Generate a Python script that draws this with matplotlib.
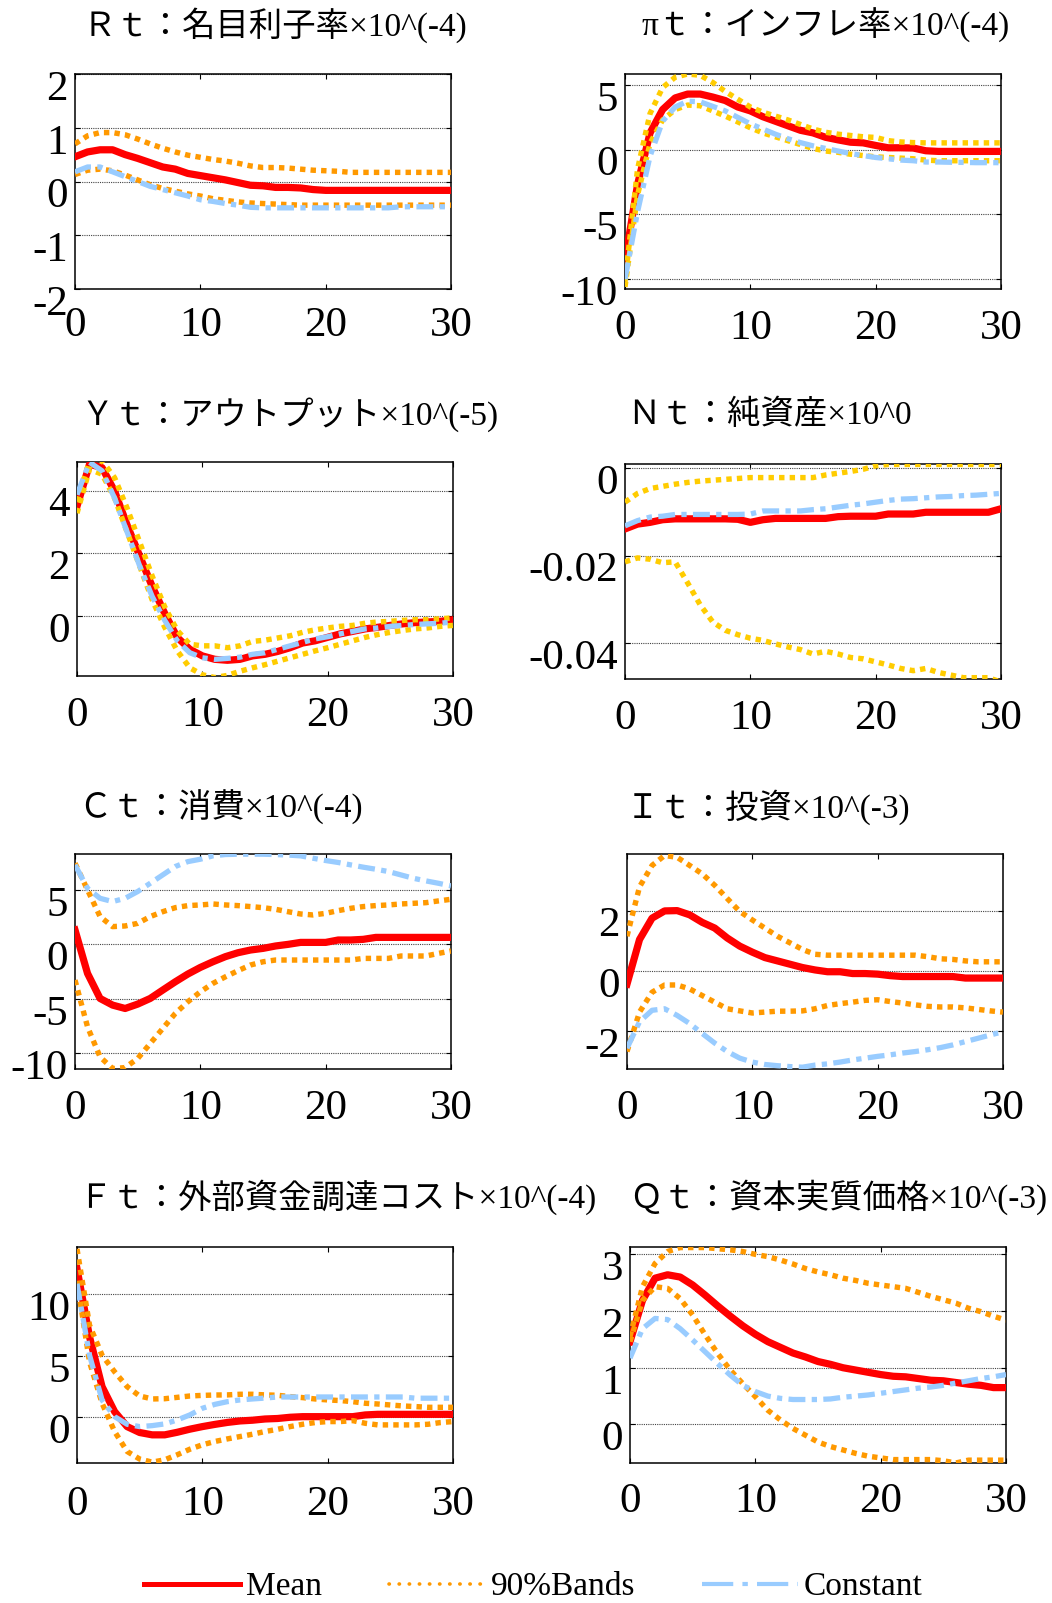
import matplotlib
matplotlib.use('Agg')
import matplotlib.pyplot as plt
from matplotlib.lines import Line2D
from matplotlib.transforms import ScaledTranslation

plt.rcParams['font.family'] = ['Liberation Serif', 'Noto Sans CJK JP']
plt.rcParams['axes.unicode_minus'] = False

periods = list(range(31))

# R t : nominal rate
R_mean = [0.46, 0.55, 0.59, 0.59, 0.50, 0.43, 0.35, 0.27, 0.23, 0.15, 0.11, 0.07, 0.03, -0.02, -0.07, -0.08,
          -0.11, -0.11, -0.12, -0.15, -0.165, -0.165, -0.165, -0.165, -0.165, -0.165, -0.165, -0.165, -0.165,
          -0.165, -0.165]
R_up = [0.70, 0.85, 0.91, 0.91, 0.87, 0.79, 0.70, 0.62, 0.55, 0.49, 0.45, 0.41, 0.38, 0.34, 0.29, 0.26, 0.26,
        0.25, 0.23, 0.21, 0.20, 0.19, 0.17, 0.17, 0.17, 0.17, 0.17, 0.17, 0.17, 0.17, 0.17]
R_lo = [0.13, 0.21, 0.23, 0.20, 0.12, 0.03, -0.06, -0.13, -0.18, -0.23, -0.27, -0.32, -0.35, -0.38, -0.40, -0.41,
        -0.42, -0.43, -0.44, -0.44, -0.44, -0.44, -0.44, -0.44, -0.44, -0.44, -0.44, -0.44, -0.44, -0.44, -0.44]
R_const = [0.18, 0.27, 0.27, 0.18, 0.09, 0.00, -0.09, -0.15, -0.21, -0.27, -0.34, -0.37, -0.41, -0.44, -0.48,
           -0.49, -0.49, -0.49, -0.49, -0.49, -0.49, -0.49, -0.49, -0.49, -0.49, -0.49, -0.47, -0.47, -0.47,
           -0.47, -0.47]

# pi t : inflation
pi_mean = [-8.6, -2.7, 1.3, 3.1, 4.0, 4.3, 4.3, 4.07, 3.8, 3.3, 3.0, 2.55, 2.2, 1.85, 1.5, 1.3, 0.96, 0.76, 0.58,
           0.53, 0.33, 0.15, 0.15, 0.13, -0.08, -0.13, -0.13, -0.13, -0.13, -0.13, -0.13]
pi_up = [-10.2, -1.5, 2.8, 4.8, 5.6, 5.85, 5.75, 5.2, 4.5, 3.9, 3.3, 2.9, 2.6, 2.3, 1.95, 1.6, 1.35, 1.2, 1.1, 1.0,
         0.95, 0.7, 0.6, 0.55, 0.53, 0.53, 0.53, 0.53, 0.53, 0.53, 0.53]
pi_lo = [-10.6, -3.5, 0.5, 2.3, 3.1, 3.45, 3.4, 3.0, 2.6, 2.15, 1.7, 1.3, 1.0, 0.7, 0.4, 0.1, -0.1, -0.2, -0.35,
         -0.45, -0.55, -0.6, -0.65, -0.7, -0.8, -0.85, -0.85, -0.85, -0.85, -0.85, -0.85]
pi_const = [-10.0, -4.8, -0.5, 2.2, 3.3, 3.75, 3.7, 3.35, 3.0, 2.5, 2.0, 1.6, 1.2, 0.85, 0.55, 0.3, 0.1, -0.1, -0.3,
            -0.45, -0.6, -0.7, -0.8, -0.85, -0.95, -0.95, -0.97, -0.98, -1.0, -1.0, -1.0]

# Y t : output
Y_mean = [3.5, 4.84, 4.73, 3.98, 2.9, 1.92, 0.95, 0.09, -0.67, -1.05, -1.26, -1.37, -1.4, -1.37, -1.26, -1.21,
          -1.12, -1.0, -0.85, -0.78, -0.67, -0.56, -0.48, -0.4, -0.35, -0.29, -0.24, -0.2, -0.18, -0.16, -0.11]
Y_up = [3.65, 4.95, 4.95, 4.41, 3.44, 2.36, 1.28, 0.3, -0.45, -0.89, -0.94, -0.94, -1.0, -0.94, -0.8, -0.76, -0.69,
        -0.62, -0.51, -0.43, -0.37, -0.32, -0.29, -0.22, -0.18, -0.16, -0.13, -0.11, -0.11, -0.08, -0.05]
Y_lo = [3.28, 4.68, 4.52, 3.76, 2.68, 1.6, 0.52, -0.35, -1.1, -1.64, -1.86, -1.95, -1.88, -1.75, -1.64, -1.54,
        -1.43, -1.32, -1.21, -1.1, -1.0, -0.89, -0.78, -0.67, -0.58, -0.51, -0.45, -0.4, -0.37, -0.32, -0.29]
Y_const = [3.87, 4.9, 4.63, 3.76, 2.68, 1.6, 0.63, -0.13, -0.78, -1.16, -1.32, -1.37, -1.34, -1.3, -1.21, -1.16,
           -1.05, -0.94, -0.83, -0.72, -0.65, -0.56, -0.48, -0.4, -0.37, -0.32, -0.29, -0.26, -0.24, -0.22, -0.18]

# N t : net worth
N_mean = [-0.0139, -0.0128, -0.0124, -0.0118, -0.0116, -0.0116, -0.0116, -0.0116, -0.0116, -0.0117, -0.0124,
          -0.0118, -0.0115, -0.0115, -0.0115, -0.0115, -0.0115, -0.0111, -0.011, -0.011, -0.011, -0.0105, -0.0105,
          -0.0105, -0.0101, -0.0101, -0.0101, -0.0101, -0.0101, -0.0101, -0.0093]
N_up = [-0.0078, -0.0058, -0.0047, -0.0042, -0.0037, -0.0033, -0.003, -0.0028, -0.0026, -0.0024, -0.0022, -0.0022,
        -0.0022, -0.0022, -0.0022, -0.0022, -0.0016, -0.0012, -0.0008, -0.0003, 0.0005, 0.0008, 0.0008, 0.0008,
        0.0008, 0.0008, 0.0008, 0.0008, 0.0008, 0.0008, 0.0008]
N_lo = [-0.0214, -0.0205, -0.0208, -0.0216, -0.0214, -0.0262, -0.0312, -0.0351, -0.037, -0.038, -0.0388, -0.0393,
        -0.0401, -0.0408, -0.0414, -0.0424, -0.0418, -0.0424, -0.0432, -0.0435, -0.0442, -0.0449, -0.0457, -0.0462,
        -0.0457, -0.0466, -0.0472, -0.0478, -0.0478, -0.0478, -0.0488]
N_const = [-0.0132, -0.012, -0.0112, -0.011, -0.0106, -0.0106, -0.0106, -0.0106, -0.0106, -0.0106, -0.0105,
           -0.0098, -0.0098, -0.0098, -0.0098, -0.0095, -0.0093, -0.0089, -0.0085, -0.0082, -0.0078, -0.0074,
           -0.0071, -0.007, -0.0068, -0.0066, -0.0065, -0.0063, -0.0062, -0.006, -0.0058]

# C t : consumption
C_mean = [1.32, -2.67, -4.97, -5.58, -5.89, -5.49, -4.97, -4.2, -3.44, -2.73, -2.12, -1.6, -1.13, -0.77, -0.52,
          -0.37, -0.15, 0.0, 0.18, 0.18, 0.18, 0.4, 0.4, 0.46, 0.64, 0.64, 0.64, 0.64, 0.64, 0.64, 0.64]
C_up = [7.45, 5.0, 2.55, 1.63, 1.69, 1.93, 2.55, 3.0, 3.37, 3.56, 3.62, 3.71, 3.62, 3.56, 3.47, 3.37, 3.22, 3.0,
        2.79, 2.7, 2.85, 3.1, 3.31, 3.47, 3.56, 3.62, 3.71, 3.77, 3.83, 3.99, 4.14]
C_lo = [-3.28, -7.58, -10.34, -11.41, -11.32, -10.49, -9.11, -7.73, -6.35, -5.28, -4.36, -3.59, -2.98, -2.42, -1.9,
        -1.6, -1.44, -1.44, -1.44, -1.44, -1.44, -1.44, -1.44, -1.29, -1.29, -1.29, -1.07, -1.07, -1.07, -0.83, -0.61]
C_const = [7.3, 5.15, 4.23, 3.93, 4.23, 4.85, 5.61, 6.38, 7.15, 7.6, 7.82, 8.13, 8.25, 8.28, 8.28, 8.28, 8.25, 8.2,
           8.13, 7.91, 7.7, 7.52, 7.3, 7.09, 6.9, 6.69, 6.38, 6.07, 5.83, 5.61, 5.37]

# I t : investment
I_mean = [-0.44, 1.04, 1.75, 1.99, 2.0, 1.86, 1.61, 1.42, 1.09, 0.82, 0.62, 0.44, 0.33, 0.22, 0.11, 0.03, -0.03,
          -0.03, -0.09, -0.09, -0.11, -0.16, -0.19, -0.19, -0.19, -0.19, -0.19, -0.24, -0.24, -0.24, -0.24]
I_up = [1.15, 2.79, 3.5, 3.83, 3.77, 3.5, 3.22, 2.84, 2.4, 1.97, 1.69, 1.42, 1.15, 0.93, 0.71, 0.55, 0.52, 0.52,
        0.52, 0.52, 0.52, 0.52, 0.52, 0.52, 0.47, 0.4, 0.38, 0.33, 0.3, 0.3, 0.3]
I_lo = [-2.68, -1.37, -0.71, -0.47, -0.47, -0.6, -0.82, -1.04, -1.26, -1.33, -1.4, -1.37, -1.34, -1.34, -1.33,
        -1.26, -1.15, -1.09, -1.04, -0.98, -0.96, -1.02, -1.07, -1.13, -1.18, -1.2, -1.2, -1.23, -1.28, -1.33, -1.37]
I_const = [-2.57, -1.69, -1.31, -1.26, -1.48, -1.75, -2.08, -2.4, -2.68, -2.9, -3.03, -3.11, -3.15, -3.18, -3.2,
           -3.13, -3.09, -3.03, -2.96, -2.9, -2.84, -2.79, -2.73, -2.68, -2.62, -2.55, -2.46, -2.35, -2.24, -2.13,
           -2.02]

# F t : external finance premium
F_mean = [12.08, 6.54, 2.49, 0.46, -0.76, -1.24, -1.43, -1.43, -1.22, -0.97, -0.76, -0.58, -0.42, -0.3, -0.24,
          -0.14, -0.1, 0.0, 0.05, 0.05, 0.05, 0.05, 0.05, 0.19, 0.24, 0.24, 0.24, 0.24, 0.24, 0.24, 0.24]
F_up = [13.7, 7.49, 5.05, 3.7, 2.49, 1.73, 1.49, 1.51, 1.62, 1.73, 1.78, 1.81, 1.82, 1.87, 1.87, 1.82, 1.79, 1.68,
        1.6, 1.49, 1.41, 1.36, 1.27, 1.14, 1.08, 1.0, 0.92, 0.87, 0.81, 0.81, 0.81]
F_lo = [11.1, 4.5, 1.14, -1.16, -2.78, -3.4, -3.65, -3.46, -3.05, -2.6, -2.24, -1.97, -1.76, -1.57, -1.38, -1.16,
        -0.98, -0.76, -0.57, -0.43, -0.35, -0.35, -0.27, -0.49, -0.62, -0.62, -0.62, -0.62, -0.57, -0.43, -0.35]
F_const = [10.86, 5.05, 1.4, 0.05, -0.57, -0.76, -0.68, -0.54, -0.22, 0.19, 0.73, 1.05, 1.27, 1.41, 1.49, 1.56,
           1.65, 1.65, 1.65, 1.65, 1.65, 1.65, 1.65, 1.65, 1.65, 1.65, 1.65, 1.55, 1.55, 1.55, 1.55]

# Q t : real price of capital
Q_mean = [1.46, 2.19, 2.58, 2.64, 2.6, 2.46, 2.28, 2.09, 1.91, 1.74, 1.59, 1.46, 1.36, 1.26, 1.19, 1.11, 1.06, 1.0,
          0.96, 0.92, 0.88, 0.85, 0.84, 0.81, 0.78, 0.77, 0.74, 0.71, 0.69, 0.65, 0.65]
Q_up = [1.55, 2.43, 2.84, 3.05, 3.12, 3.12, 3.12, 3.1, 3.08, 3.05, 3.0, 2.96, 2.9, 2.83, 2.75, 2.69, 2.64, 2.58,
        2.54, 2.49, 2.46, 2.43, 2.4, 2.33, 2.26, 2.2, 2.14, 2.05, 1.99, 1.91, 1.84]
Q_lo = [1.46, 2.19, 2.43, 2.4, 2.22, 1.93, 1.58, 1.25, 0.96, 0.72, 0.49, 0.25, 0.08, -0.07, -0.19, -0.31, -0.39,
        -0.45, -0.51, -0.56, -0.59, -0.62, -0.62, -0.62, -0.62, -0.64, -0.68, -0.63, -0.63, -0.63, -0.63]
Q_const = [1.17, 1.69, 1.87, 1.85, 1.69, 1.49, 1.28, 1.07, 0.87, 0.69, 0.58, 0.5, 0.46, 0.44, 0.44, 0.44, 0.45,
           0.48, 0.5, 0.52, 0.55, 0.58, 0.61, 0.64, 0.66, 0.69, 0.73, 0.77, 0.81, 0.84, 0.88]

titles = ['Ｒｔ：名目利子率×10^(-4)', 'πｔ：インフレ率×10^(-4)', 'Ｙｔ：アウトプット×10^(-5)',
          'Ｎｔ：純資産×10^0', 'Ｃｔ：消費×10^(-4)', 'Ｉｔ：投資×10^(-3)',
          'Ｆｔ：外部資金調達コスト×10^(-4)', 'Ｑｔ：資本実質価格×10^(-3)']
legend_labels = ['Mean', '90%Bands', 'Constant']

ORANGE = '#FF9900'
GOLD = '#FFCC00'
BLUE = '#99CCFF'

W, H = 1052, 1603
fig = plt.figure(figsize=(W / 100, H / 100), dpi=100)


def add_panel(box, mean, upper, lower, const, band_color, ylim, yticks, xpad):
    # box = left, top, right, bottom in pixels
    l, t, r, b = box
    ax = fig.add_axes([l / W, 1 - b / H, (r - l) / W, (b - t) / H])
    ax.plot(periods, mean, color='red', lw=5.2, zorder=3)
    ax.plot(periods, upper, color=band_color, lw=3.9, ls=(0, (1, 0.95)), zorder=4)
    ax.plot(periods, lower, color=band_color, lw=3.9, ls=(0, (1, 0.95)), zorder=4)
    ax.plot(periods, const, color=BLUE, lw=3.8, ls=(0, (3.2, 1.2, 1, 1.2)), zorder=5)
    ax.set_xlim(0, 30)
    ax.set_ylim(*ylim)
    ax.set_xticks([0, 10, 20, 30])
    ax.set_yticks(yticks)
    ax.set_yticklabels(['%g' % v for v in yticks])
    ax.yaxis.grid(True, color='#444444', lw=0.8, ls=(0, (1, 1)))
    for s in ax.spines.values():
        s.set_linewidth(1.1)
    ax.tick_params(direction='in', top=True, right=True, length=3.5, width=0.8, labelsize=31)
    ax.tick_params(axis='x', pad=xpad)
    ax.tick_params(axis='y', pad=5)
    shift = ScaledTranslation(0, -11 / 100, fig.dpi_scale_trans)
    for lab in ax.get_yticklabels():
        lab.set_transform(lab.get_transform() + shift)
    return ax


add_panel((75, 74, 451, 289), R_mean, R_up, R_lo, R_const, ORANGE, (-2, 2), [-2, -1, 0, 1, 2], 12.3)
add_panel((625, 74, 1001, 289), pi_mean, pi_up, pi_lo, pi_const, GOLD, (-10.76, 5.85), [-10, -5, 0, 5], 14.5)
add_panel((77, 462, 453, 676), Y_mean, Y_up, Y_lo, Y_const, GOLD, (-1.9, 4.91), [0, 2, 4], 14.5)
add_panel((625, 464, 1001, 679), N_mean, N_up, N_lo, N_const, GOLD, (-0.0481, 0.0009), [-0.04, -0.02, 0], 15)
add_panel((75, 854, 451, 1069), C_mean, C_up, C_lo, C_const, ORANGE, (-11.45, 8.3), [-10, -5, 0, 5], 14.5)
add_panel((627, 854, 1003, 1069), I_mean, I_up, I_lo, I_const, ORANGE, (-3.26, 3.88), [-2, 0, 2], 14.5)
add_panel((77, 1247, 453, 1463), F_mean, F_up, F_lo, F_const, ORANGE, (-3.72, 13.85), [0, 5, 10], 16)
add_panel((630, 1247, 1006, 1463), Q_mean, Q_up, Q_lo, Q_const, ORANGE, (-0.68, 3.13), [0, 1, 2, 3], 14)

# titles placed above each panel
title_pos = [(83, 25), (641, 25), (80, 415), (627, 415), (78, 807), (626, 807), (78, 1197), (629, 1197)]
for (tx, ty), s in zip(title_pos, titles):
    fig.text(tx / W, 1 - ty / H, s, fontsize=24, family=['Liberation Serif', 'Noto Sans CJK JP'],
             ha='left', va='center')

handles = [Line2D([], [], color='red', lw=3.6),
           Line2D([], [], color=ORANGE, lw=2.6, ls=(0, (0.1, 2.7)), dash_capstyle='round'),
           Line2D([], [], color=BLUE, lw=3, ls=(0, (7.5, 2.2, 1.3, 2.2)))]
fig.legend(handles, legend_labels, loc='center', bbox_to_anchor=(533.5 / W, 1 - 1587 / H), ncol=3,
           frameon=False, prop={'family': 'Liberation Serif', 'size': 24}, handlelength=2.88,
           handletextpad=0.18, columnspacing=2.0, borderpad=0, borderaxespad=0)

fig.savefig('out.png', dpi=100)
